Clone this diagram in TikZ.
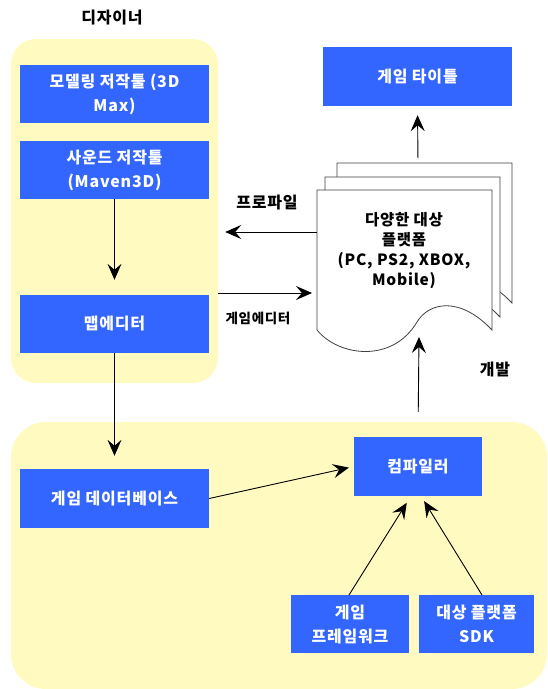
\documentclass[tikz,border=0pt]{standalone}
\usepackage{fontspec}
\setmainfont{Noto Sans CJK KR}[LetterSpace=5]
\usetikzlibrary{arrows.meta}
\definecolor{boxblue}{HTML}{3366FF}
\definecolor{zone}{HTML}{FFFBC0}
\definecolor{pageline}{HTML}{404040}
\begin{document}
\begin{tikzpicture}[x=1pt,y=-1pt,
  box/.style={fill=boxblue, text=white, font=\bfseries\fontsize{16}{24}\selectfont, align=center, inner sep=0pt},
  zonebox/.style={fill=zone, draw=none, inner sep=0pt},
  conn/.style={-{Stealth[length=16pt,width=14pt,inset=6pt]}, line width=0.9pt, black},
  lbl/.style={font=\bfseries\fontsize{16}{20}\selectfont, text=black},
  small/.style={font=\bfseries\fontsize{13.5}{14}\selectfont, text=black},
  page/.style={fill=white, draw=pageline, line width=0.8pt},
]
\useasboundingbox (0,0) rectangle (547,689);
% zones
\node[zonebox, rounded corners=25pt, minimum width=207pt, minimum height=344pt] (designer) at (114.5,211) {};
\node[zonebox, rounded corners=35pt, minimum width=536pt, minimum height=267pt] (devzone) at (279,555.5) {};
% title
\node[lbl] (dtitle) at (112,18) {디자이너};
% boxes
\node[box, minimum width=189pt, minimum height=58pt] (model) at (114.5,94) {모델링 저작툴 (3D\\Max)};
\node[box, minimum width=189pt, minimum height=58pt] (sound) at (114.5,170) {사운드 저작툴\\(Maven3D)};
\node[box, minimum width=189pt, minimum height=58pt] (mapedit) at (114.5,324) {맵에디터};
\node[box, minimum width=189pt, minimum height=59pt] (gamedb) at (114.5,498.5) {게임 데이터베이스};
\node[box, minimum width=189pt, minimum height=59pt] (gtitle) at (417.5,76.5) {게임 타이틀};
\node[box, minimum width=128pt, minimum height=59pt] (compiler) at (418,466.5) {컴파일러};
\node[box, minimum width=118pt, minimum height=58pt] (framework) at (350,624) {게임\\프레임워크};
\node[box, minimum width=115pt, minimum height=58pt] (sdk) at (476.5,624) {대상 플랫폼\\SDK};
% document stack
\foreach \dx/\dy in {20/-27, 8/-13, 0/0}{
  \draw[page, shift={(\dx,\dy)}] (317,190) -- (492,190) -- (492,330)
    .. controls (460,296) and (429,302) .. (417,322)
    .. controls (392,364) and (338,356) .. (317,330) -- cycle;
}
\node[lbl, align=center, font=\bfseries\fontsize{15.5}{20}\selectfont] (docs) at (404,251) {다양한 대상\\플랫폼\\(PC, PS2, XBOX,\\Mobile)};
\coordinate (doctop) at (418,163);
\coordinate (docleft) at (317,232);
\coordinate (docin) at (317,293);
\coordinate (geout) at (218,293);
\coordinate (docbottom) at (419,337);
\coordinate (cin1) at (411,496);
\coordinate (cin2) at (421,496);
\coordinate (fwout) at (349,595);
\coordinate (sdkout) at (482,595);
% labels
\node[lbl] (lprof) at (267,203) {프로파일};
\node[small] (lge) at (258,318) {게임에디터};
\node[lbl] (ldev) at (495,369) {개발};
% connectors
\draw[conn, shorten >=15pt] (sound) -- (mapedit);
\draw[conn, shorten >=13pt] (mapedit) -- (gamedb);
\draw[conn, shorten >=5pt] (gamedb.east) -- (compiler.west);
\draw[conn, shorten >=8pt] (fwout) -- (cin1);
\draw[conn, shorten >=6pt] (sdkout) -- (cin2);
\draw[conn, shorten <=5pt, shorten >=9pt] (doctop) -- (gtitle.south);
\draw[conn, shorten >=7pt] (docleft) -- (designer.east |- docleft);
\draw[conn, shorten >=5pt] (geout) -- (docin);
\draw[conn, shorten <=25pt] (compiler.north) -- (docbottom);
\end{tikzpicture}
\end{document}
